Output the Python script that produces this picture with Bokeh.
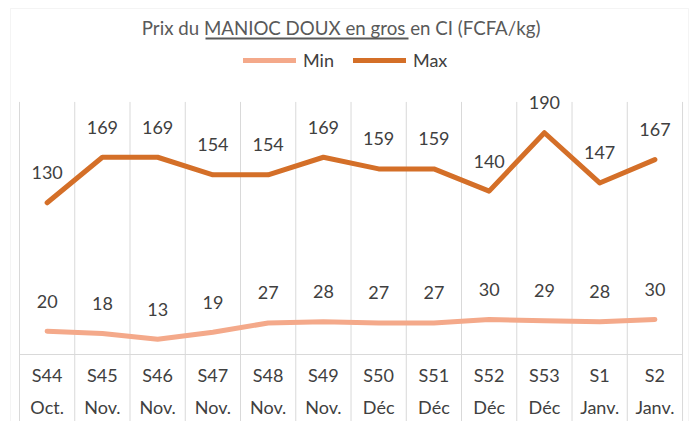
from bokeh.plotting import figure
from bokeh.models import (ColumnDataSource, Range1d, Legend, LegendItem,
                          BoxAnnotation, Label)
from bokeh.core.properties import value
from bokeh.embed import file_html
from bokeh.resources import INLINE

weeks = ["S44", "S45", "S46", "S47", "S48", "S49", "S50", "S51", "S52", "S53", "S1", "S2"]
months = ["Oct.", "Nov.", "Nov.", "Nov.", "Nov.", "Nov.", "Déc", "Déc", "Déc", "Déc", "Janv.", "Janv."]
min_vals = [20, 18, 13, 19, 27, 28, 27, 27, 30, 29, 28, 30]
max_vals = [130, 169, 169, 154, 154, 169, 159, 159, 140, 190, 147, 167]

title_text = "Prix du MANIOC DOUX  en gros en CI (FCFA/kg)"
FONT = "Lato"
TXT = "#404040"
MIN_COLOR = "#F4A98A"
MAX_COLOR = "#D46F28"
GRID = "#D9D9D9"

W, H = 698, 421
n = len(weeks)
X_START, X_END = -0.344, 12.289
Y_BOTTOM, Y_GRID_TOP, Y_TOP = -57.4, 216.4, 303.3

xs = [i + 0.5 for i in range(n)]
src = ColumnDataSource(dict(x=xs, week=weeks, month=months, mn=min_vals, mx=max_vals,
                            mn_t=[str(v) for v in min_vals], mx_t=[str(v) for v in max_vals],
                            zero=[0] * n))
bounds = list(range(n + 1))
sep = ColumnDataSource(dict(x=bounds, y0=[Y_BOTTOM] * len(bounds), y1=[Y_GRID_TOP] * len(bounds)))

p = figure(width=W, height=H, output_backend="svg", toolbar_location=None,
           x_range=Range1d(X_START, X_END), y_range=Range1d(Y_BOTTOM, Y_TOP),
           x_axis_location=None, y_axis_location=None,
           min_border_left=0, min_border_right=0, min_border_top=0, min_border_bottom=0)
p.outline_line_color = None
p.xgrid.grid_line_color = None
p.ygrid.grid_line_color = None

# chart border
p.add_layout(BoxAnnotation(left=10, right=688, top=H - 8, bottom=-20,
                           left_units="screen", right_units="screen",
                           top_units="screen", bottom_units="screen",
                           fill_alpha=0, line_color=GRID, line_width=1))

# category separators and axis line
p.segment(x0="x", y0="y0", x1="x", y1="y1", source=sep, line_color=GRID, line_width=1)
p.segment(x0=[0], y0=[0], x1=[n], y1=[0], line_color=GRID, line_width=1)

r_min = p.line("x", "mn", source=src, line_color=MIN_COLOR, line_width=5, line_join="round", line_cap="round")
r_max = p.line("x", "mx", source=src, line_color=MAX_COLOR, line_width=5, line_join="round", line_cap="round")

for col, tcol in (("mn", "mn_t"), ("mx", "mx_t")):
    p.text("x", col, text=tcol, source=src, text_align="center", text_baseline="middle",
           y_offset=-30, text_font=value(FONT), text_font_size="18px", text_color=TXT)

p.text("x", "zero", text="week", source=src, text_align="center", text_baseline="middle",
       y_offset=20, text_font=value(FONT), text_font_size="18px", text_color=TXT)
p.text("x", "zero", text="month", source=src, text_align="center", text_baseline="middle",
       y_offset=52, text_font=value(FONT), text_font_size="18px", text_color=TXT)

# title with underline
p.add_layout(Label(x=343, y=H - 27, x_units="screen", y_units="screen", text=title_text,
                   text_align="center", text_baseline="middle", text_font=FONT,
                   text_font_size="18.7px", text_color="#595959"))
p.add_layout(BoxAnnotation(left=205, right=408, top=H - 37, bottom=H - 39,
                           left_units="screen", right_units="screen",
                           top_units="screen", bottom_units="screen",
                           fill_color="#595959", fill_alpha=1, line_color=None))

legend = Legend(items=[LegendItem(label="Min", renderers=[r_min]),
                       LegendItem(label="Max", renderers=[r_max])],
                orientation="horizontal", location=(243, H - 71),
                label_text_font=FONT, label_text_font_size="18px", label_text_color=TXT,
                glyph_width=53, glyph_height=22, label_height=22, label_standoff=7, spacing=19,
                padding=0, margin=0, background_fill_alpha=0, border_line_color=None)
p.add_layout(legend, "center")

open("out.html", "w").write(file_html(p, INLINE))
